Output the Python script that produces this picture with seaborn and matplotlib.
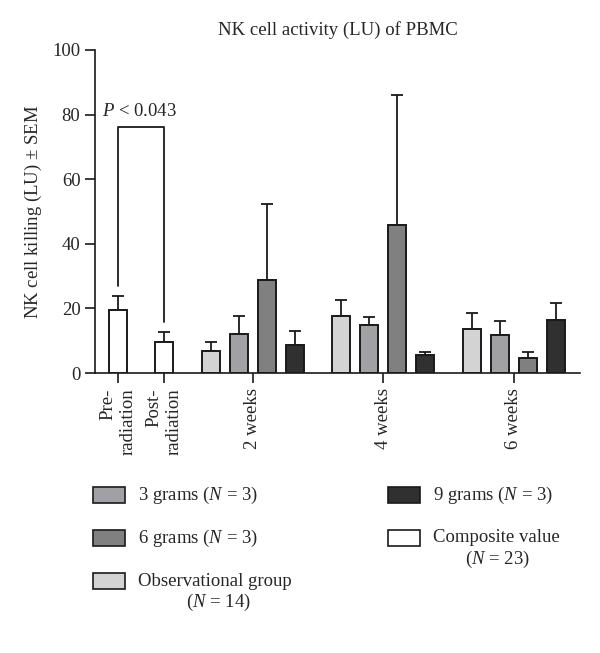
import numpy as np
import pandas as pd
import seaborn as sns
import matplotlib
matplotlib.use('Agg')
import matplotlib.pyplot as plt
from matplotlib.patches import Rectangle

# data
composite_labels = ["Pre-\nradiation", "Post-\nradiation"]
composite_values = [19.6, 9.6]
composite_sem = [4.1, 3.0]

week_labels = ["2 weeks", "4 weeks", "6 weeks"]
groups = ["Observational group", "3 grams", "6 grams", "9 grams"]
obs_values = [6.9, 17.7, 13.6]
obs_sem = [2.8, 4.8, 4.9]
g3_values = [12.1, 14.8, 11.8]
g3_sem = [5.4, 2.6, 4.4]
g6_values = [28.9, 45.8, 4.5]
g6_sem = [23.4, 40.3, 1.9]
g9_values = [8.6, 5.6, 16.4]
g9_sem = [4.5, 0.8, 5.4]

colors = {"Composite value": "#ffffff", "Observational group": "#d3d3d3",
          "3 grams": "#a0a0a5", "6 grams": "#808080", "9 grams": "#303030"}

sns.set_style("ticks")
plt.rcParams['font.family'] = ['Liberation Serif', 'DejaVu Serif']
plt.rcParams['mathtext.fontset'] = 'custom'
plt.rcParams['mathtext.rm'] = 'Liberation Serif'
plt.rcParams['mathtext.it'] = 'Liberation Serif:italic'

FS = 13.5

# layout of the bar slots (one unit = one bar slot inside a group)
pre_pos, post_pos = 0.0, 1.65
group_start, group_step = 3.32, 4.66

rows = []
rows.append((pre_pos, composite_values[0], composite_sem[0], "Composite value"))
rows.append((post_pos, composite_values[1], composite_sem[1], "Composite value"))
series = {"Observational group": (obs_values, obs_sem), "3 grams": (g3_values, g3_sem),
          "6 grams": (g6_values, g6_sem), "9 grams": (g9_values, g9_sem)}
for w in range(len(week_labels)):
    for i, g in enumerate(groups):
        vals, sems = series[g]
        rows.append((round(group_start + w * group_step + i, 3), vals[w], sems[w], g))
df = pd.DataFrame(rows, columns=["pos", "value", "sem", "group"])

fig = plt.figure(figsize=(6, 6.53), dpi=100)
ax = fig.add_axes([95 / 600, 1 - 373 / 653, 485 / 600, 323 / 653])

sns.barplot(data=df, x="pos", y="value", hue="group", palette=colors,
            native_scale=True, dodge=False, width=0.64, edgecolor="#1a1a1a",
            linewidth=1.4, legend=False, errorbar=None, ax=ax, zorder=3)
ax.errorbar(df["pos"], df["value"], yerr=[np.zeros(len(df)), df["sem"]],
            fmt="none", ecolor="#1a1a1a", elinewidth=1.3, capsize=4.5,
            capthick=1.3, zorder=2)

ax.set_xlim(-0.82, 16.5)
ax.set_ylim(0, 100)
ax.set_yticks([0, 20, 40, 60, 80, 100])
tick_pos = [pre_pos, post_pos] + [group_start + w * group_step + 1.5 for w in range(3)]
ax.set_xticks(tick_pos)
ax.set_xticklabels(composite_labels + week_labels, rotation=90, ha="center",
                   va="top", multialignment="right")
ax.tick_params(axis="both", labelsize=FS, length=7, width=1.2, color="#1a1a1a")
ax.tick_params(axis="x", pad=4)
for s in ["left", "bottom"]:
    ax.spines[s].set_linewidth(1.2)
    ax.spines[s].set_color("#1a1a1a")
sns.despine(ax=ax)
ax.set_xlabel("")
ax.set_ylabel("NK cell killing (LU) $\\pm$ SEM", fontsize=FS, labelpad=6)
ax.set_title("NK cell activity (LU) of PBMC", fontsize=FS, pad=11)

# significance bracket
ax.plot([pre_pos, pre_pos, post_pos, post_pos], [26.8, 76.3, 76.3, 15.9],
        color="#1a1a1a", lw=1.3)
ax.text((pre_pos + post_pos) / 2 - 0.05, 78.3, "$P$ < 0.043", ha="center",
        va="bottom", fontsize=FS)

# legend drawn in figure pixels
def legend_entry(x, y, label, color, second=None, second_x=None):
    fig.patches.append(Rectangle((x / 600, 1 - (y + 8) / 653), 32 / 600, 16 / 653,
                                 transform=fig.transFigure, facecolor=color,
                                 edgecolor="#1a1a1a", lw=1.2))
    fig.text((x + 45) / 600, 1 - y / 653, label, fontsize=FS, va="center", ha="left")
    if second:
        fig.text(second_x / 600, 1 - (y + 21) / 653, second, fontsize=FS,
                 va="center", ha="center")

legend_entry(93, 495, "3 grams ($N$ = 3)", colors["3 grams"])
legend_entry(93, 538, "6 grams ($N$ = 3)", colors["6 grams"])
legend_entry(93, 581, "Observational group", colors["Observational group"],
             "($N$ = 14)", 218)
legend_entry(388, 495, "9 grams ($N$ = 3)", colors["9 grams"])
legend_entry(388, 538, "Composite value", colors["Composite value"],
             "($N$ = 23)", 497)

fig.savefig("out.png", dpi=100)
